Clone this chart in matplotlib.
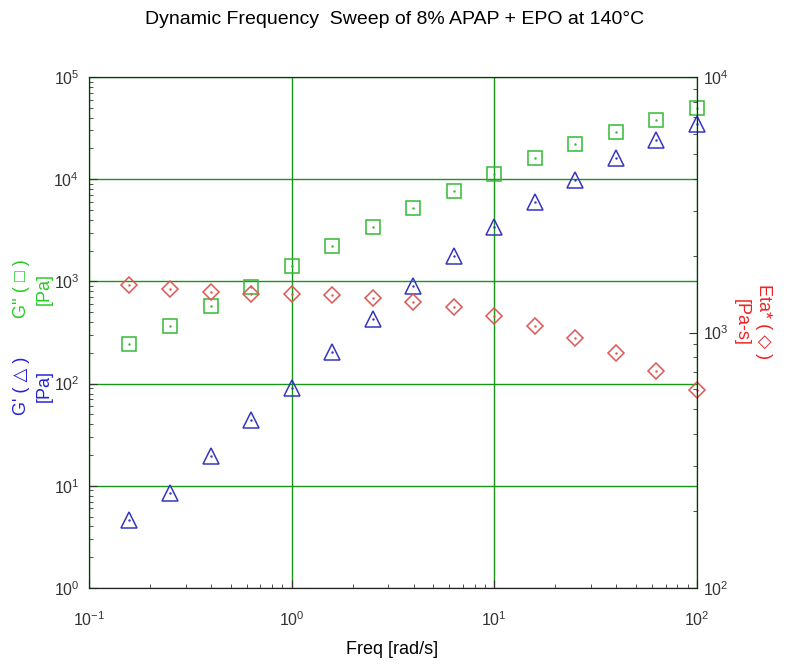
import numpy as np
import matplotlib.pyplot as plt

plt.rcParams['font.family'] = ['Liberation Sans', 'DejaVu Sans']

# frequency sweep data
freq = [0.158, 0.251, 0.398, 0.631, 1.0, 1.585, 2.512, 3.981, 6.31, 10.0,
        15.85, 25.12, 39.81, 63.1, 100.0]
g_loss = [244, 366, 575, 881, 1415, 2220, 3407, 5226, 7670, 11240,
          16120, 22100, 28950, 37950, 49750]
g_store = [4.63, 8.5, 19.6, 44, 90.6, 204, 429, 901, 1773, 3407,
           5984, 9820, 16100, 24200, 34700]
eta = [1535, 1480, 1441, 1415, 1415, 1402, 1365, 1316, 1259, 1160,
       1060, 951, 831, 707, 596]

green = '#33bb33'
blue = '#3535c0'
red = '#e05555'
grid_c = '#169816'

fig = plt.figure(figsize=(8, 6.68), dpi=100)
ax = fig.add_axes([89/800, 1-588/668, 608/800, 511/668])
ax2 = ax.twinx()

ax.set_xscale('log')
ax.set_yscale('log')
ax2.set_yscale('log')
ax.set_xlim(0.1, 100)
ax.set_ylim(1, 1e5)
ax2.set_ylim(100, 1e4)

ax.grid(True, which='major', color=grid_c, linewidth=1)
ax.set_axisbelow(True)

ax.plot(freq, g_loss, ls='none', marker='s', ms=10, mfc='none', mec=green, mew=1.1, clip_on=False)
ax.plot(freq, g_store, ls='none', marker='^', ms=11, mfc='none', mec=blue, mew=1.1, clip_on=False)
ax2.plot(freq, eta, ls='none', marker='D', ms=8.5, mfc='none', mec=red, mew=1.1, clip_on=False)
# little centre dots
ax.plot(freq, g_loss, ls='none', marker='.', ms=1.5, color=green, clip_on=False)
ax.plot(freq, g_store, ls='none', marker='.', ms=1.5, color=blue, clip_on=False)
ax2.plot(freq, eta, ls='none', marker='.', ms=1.5, color=red, clip_on=False)

for a in (ax, ax2):
    a.tick_params(which='both', direction='in', labelsize=11.5, colors='#333333')
    a.tick_params(which='major', length=6)
    a.tick_params(which='minor', length=3)
    for s in a.spines.values():
        s.set_color('#222222')
ax.tick_params(axis='x', pad=16)
ax.tick_params(axis='y', pad=7)
ax2.tick_params(axis='y', pad=4)

fig.text(395/800, 1-20/668, 'Dynamic Frequency  Sweep of 8% APAP + EPO at 140\u00b0C',
         ha='center', va='center', fontsize=14)
fig.text(392/800, 1-650/668, 'Freq [rad/s]', ha='center', va='center', fontsize=13)

fig.text(33/800, 1-289/668, "G'' ( \u25a1 )\n[Pa]", rotation=90, ha='center', va='center',
         fontsize=13, color='#22cc22', linespacing=1.4, family=['Liberation Sans', 'DejaVu Sans'])
fig.text(33/800, 1-386/668, "G' ( \u25b3 )\n[Pa]", rotation=90, ha='center', va='center',
         fontsize=13, color='#2222dd', linespacing=1.4, family=['Liberation Sans', 'DejaVu Sans'])
fig.text(752/800, 1-322/668, "Eta* ( \u25c7 )\n[Pa-s]", rotation=270, ha='center', va='center',
         fontsize=13, color='#ee2222', linespacing=1.4, family=['Liberation Sans', 'DejaVu Sans'])

fig.savefig('out.png', dpi=100)
